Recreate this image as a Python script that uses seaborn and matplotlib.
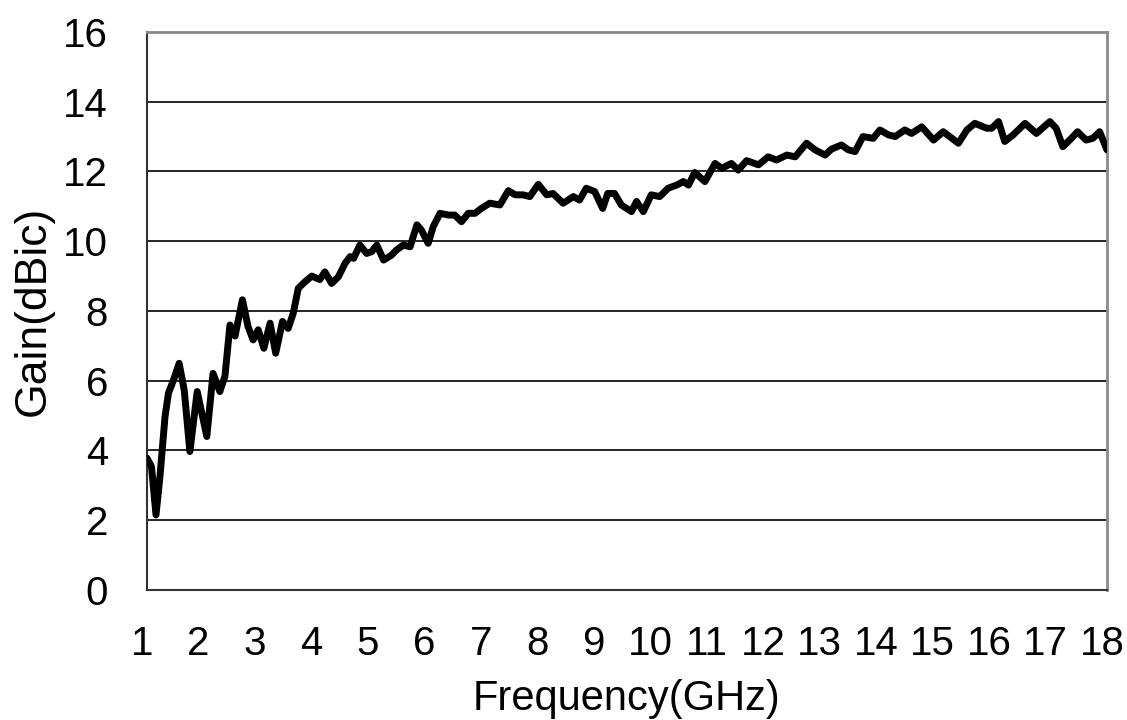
import numpy as np
import pandas as pd
import matplotlib.pyplot as plt
import matplotlib.transforms as mtransforms
import seaborn as sns

freq = [1.0, 1.08, 1.16, 1.23, 1.32, 1.38, 1.47, 1.57, 1.66, 1.76, 1.89, 2.06, 2.17, 2.29,
        2.38, 2.47, 2.56, 2.69, 2.79, 2.88, 2.97, 3.07, 3.18, 3.28, 3.40, 3.50, 3.59, 3.68,
        3.80, 3.92, 4.06, 4.15, 4.27, 4.39, 4.51, 4.60, 4.66, 4.77, 4.89, 4.98, 5.07, 5.19,
        5.33, 5.42, 5.54, 5.66, 5.78, 5.86, 5.98, 6.07, 6.19, 6.34, 6.45, 6.57, 6.69, 6.81,
        6.92, 7.07, 7.25, 7.40, 7.52, 7.66, 7.78, 7.93, 8.08, 8.19, 8.37, 8.55, 8.66, 8.78,
        8.93, 9.07, 9.16, 9.28, 9.40, 9.58, 9.67, 9.79, 9.93, 10.08, 10.23, 10.38, 10.50,
        10.59, 10.70, 10.88, 11.06, 11.18, 11.35, 11.47, 11.62, 11.83, 12.00, 12.15, 12.33,
        12.48, 12.68, 12.83, 13.01, 13.12, 13.30, 13.42, 13.54, 13.68, 13.86, 13.98, 14.13,
        14.25, 14.42, 14.54, 14.72, 14.93, 15.10, 15.37, 15.52, 15.66, 15.87, 15.96, 16.08,
        16.19, 16.34, 16.55, 16.75, 16.99, 17.10, 17.22, 17.37, 17.48, 17.63, 17.75, 17.87,
        18.0]
gain = [3.78, 3.54, 2.15, 3.25, 4.97, 5.64, 6.02, 6.50, 5.73, 3.97, 5.69, 4.40, 6.21, 5.69,
        6.12, 7.60, 7.28, 8.32, 7.55, 7.17, 7.46, 6.93, 7.65, 6.79, 7.70, 7.50, 7.93, 8.65,
        8.84, 9.00, 8.90, 9.12, 8.79, 8.98, 9.37, 9.56, 9.51, 9.89, 9.65, 9.70, 9.89, 9.46,
        9.60, 9.75, 9.89, 9.84, 10.47, 10.32, 9.94, 10.42, 10.80, 10.75, 10.75, 10.56, 10.80,
        10.80, 10.94, 11.09, 11.04, 11.45, 11.33, 11.33, 11.28, 11.63, 11.33, 11.37, 11.09,
        11.28, 11.18, 11.52, 11.42, 10.94, 11.37, 11.37, 11.04, 10.85, 11.14, 10.85, 11.33,
        11.28, 11.52, 11.61, 11.71, 11.61, 11.97, 11.71, 12.23, 12.09, 12.23, 12.04, 12.31,
        12.19, 12.42, 12.33, 12.47, 12.42, 12.81, 12.62, 12.47, 12.64, 12.76, 12.62, 12.57,
        13.00, 12.95, 13.19, 13.05, 13.00, 13.19, 13.09, 13.28, 12.90, 13.14, 12.81, 13.19,
        13.38, 13.24, 13.24, 13.43, 12.86, 13.05, 13.38, 13.09, 13.43, 13.24, 12.71, 12.95,
        13.14, 12.90, 12.95, 13.14, 12.62]

x_ticks = list(range(1, 19))
y_major = list(range(0, 17, 2))
y_minor = list(range(1, 16, 2))

df = pd.DataFrame({"Frequency": freq, "Gain": gain})

sns.set_style("white")
plt.rcParams["font.family"] = ["Liberation Sans", "DejaVu Sans"]
plt.rcParams["text.color"] = "black"
plt.rcParams["xtick.labelcolor"] = "black"
plt.rcParams["ytick.labelcolor"] = "black"
plt.rcParams["axes.labelcolor"] = "black"

fig = plt.figure(figsize=(11.27, 7.2), dpi=100)
ax = fig.add_axes([0.1304, 0.1806, 0.8518, 0.775])

for v in y_major[1:-1]:
    ax.axhline(v, color="black", lw=1.2, zorder=1)

sns.lineplot(data=df, x="Frequency", y="Gain", color="black", lw=5,
             solid_joinstyle="round", solid_capstyle="round", ax=ax, zorder=3)

ax.set_xlim(1, 18)
ax.set_ylim(0, 16)
ax.set_xticks(x_ticks)
ax.set_yticks(y_major)
ax.set_yticks(y_minor, minor=True)
ax.tick_params(axis="both", which="major", direction="in", length=12, width=1.2,
               labelsize=29, color="#333333")
ax.tick_params(axis="y", which="minor", direction="in", length=10, width=1.2, color="#333333")
ax.tick_params(axis="y", which="major", pad=28)
ax.tick_params(axis="x", which="major", pad=25)

# x labels sit a few pixels left of their ticks in the original
shift = mtransforms.ScaledTranslation(-5 / 100, 0, fig.dpi_scale_trans)
for tick in ax.xaxis.get_major_ticks():
    tick.label1.set_transform(tick.label1.get_transform() + shift)

ax.set_xlabel("Frequency(GHz)", fontsize=30)
ax.set_ylabel("Gain(dBic)", fontsize=32)
ax.xaxis.set_label_coords(0.5, -0.16)
ax.yaxis.set_label_coords(-0.097, 0.5)

for side in ["left", "bottom"]:
    ax.spines[side].set_color("#333333")
    ax.spines[side].set_linewidth(1.5)
for side in ["top", "right"]:
    ax.spines[side].set_color("#8a8a8a")
    ax.spines[side].set_linewidth(2.0)

fig.savefig("out.png", dpi=100)
